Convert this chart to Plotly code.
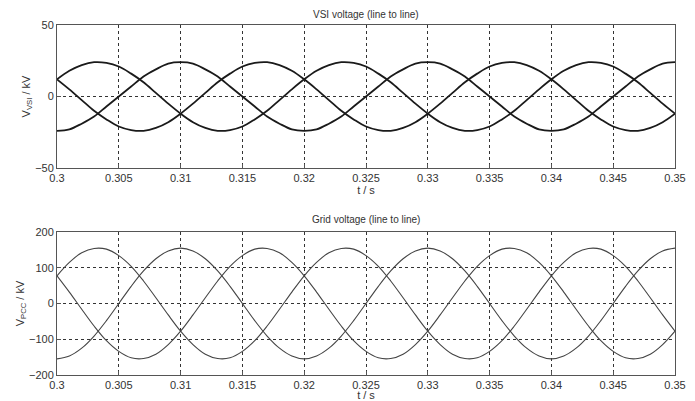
import plotly.graph_objects as go
from plotly.subplots import make_subplots

t = [0.300, 0.301, 0.302, 0.303, 0.304, 0.305, 0.306, 0.307, 0.308, 0.309,
     0.310, 0.311, 0.312, 0.313, 0.314, 0.315, 0.316, 0.317, 0.318, 0.319,
     0.320, 0.321, 0.322, 0.323, 0.324, 0.325, 0.326, 0.327, 0.328, 0.329,
     0.330, 0.331, 0.332, 0.333, 0.334, 0.335, 0.336, 0.337, 0.338, 0.339,
     0.340, 0.341, 0.342, 0.343, 0.344, 0.345, 0.346, 0.347, 0.348, 0.349,
     0.350]

# VSI line-to-line voltages (kV)
vsi_a = [-24, -23, -19, -14, -7, 0, 7, 14, 19, 23,
         24, 23, 19, 14, 7, 0, -7, -14, -19, -23,
         -24, -23, -19, -14, -7, 0, 7, 14, 19, 23,
         24, 23, 19, 14, 7, 0, -7, -14, -19, -23,
         -24, -23, -19, -14, -7, 0, 7, 14, 19, 23,
         24]
vsi_b = [12, 18, 22, 24, 23.5, 21, 16, 10, 2.5, -5,
         -12, -18, -22, -24, -23.5, -21, -16, -10, -2.5, 5,
         12, 18, 22, 24, 23.5, 21, 16, 10, 2.5, -5,
         -12, -18, -22, -24, -23.5, -21, -16, -10, -2.5, 5,
         12, 18, 22, 24, 23.5, 21, 16, 10, 2.5, -5,
         -12]
vsi_c = [12, 5, -2.5, -10, -16, -21, -23.5, -24, -22, -18,
         -12, -5, 2.5, 10, 16, 21, 23.5, 24, 22, 18,
         12, 5, -2.5, -10, -16, -21, -23.5, -24, -22, -18,
         -12, -5, 2.5, 10, 16, 21, 23.5, 24, 22, 18,
         12, 5, -2.5, -10, -16, -21, -23.5, -24, -22, -18,
         -12]

# Grid line-to-line voltages (kV)
pcc_a = [-155, -147, -125, -91, -48, 0, 48, 91, 125, 147,
         155, 147, 125, 91, 48, 0, -48, -91, -125, -147,
         -155, -147, -125, -91, -48, 0, 48, 91, 125, 147,
         155, 147, 125, 91, 48, 0, -48, -91, -125, -147,
         -155, -147, -125, -91, -48, 0, 48, 91, 125, 147,
         155]
pcc_b = [77.5, 115, 142, 154, 152, 134, 104, 63, 16, -32,
         -77.5, -115, -142, -154, -152, -134, -104, -63, -16, 32,
         77.5, 115, 142, 154, 152, 134, 104, 63, 16, -32,
         -77.5, -115, -142, -154, -152, -134, -104, -63, -16, 32,
         77.5, 115, 142, 154, 152, 134, 104, 63, 16, -32,
         -77.5]
pcc_c = [77.5, 32, -16, -63, -104, -134, -152, -154, -142, -115,
         -77.5, -32, 16, 63, 104, 134, 152, 154, 142, 115,
         77.5, 32, -16, -63, -104, -134, -152, -154, -142, -115,
         -77.5, -32, 16, 63, 104, 134, 152, 154, 142, 115,
         77.5, 32, -16, -63, -104, -134, -152, -154, -142, -115,
         -77.5]

x_ticks = [0.3, 0.305, 0.31, 0.315, 0.32, 0.325, 0.33, 0.335, 0.34, 0.345, 0.35]
x_labels = ["0.3", "0.305", "0.31", "0.315", "0.32", "0.325", "0.33", "0.335", "0.34", "0.345", "0.35"]
y1_ticks = [-50, 0, 50]
y2_ticks = [-200, -100, 0, 100, 200]

fig = make_subplots(rows=2, cols=1)

for s in (vsi_a, vsi_b, vsi_c):
    fig.add_trace(go.Scatter(x=t, y=s, mode="lines", line=dict(color="#1a1a1a", width=1.8, shape="spline"),
                             showlegend=False), row=1, col=1)
for s in (pcc_a, pcc_b, pcc_c):
    fig.add_trace(go.Scatter(x=t, y=s, mode="lines", line=dict(color="#444444", width=1.1, shape="spline"),
                             showlegend=False), row=2, col=1)

font = dict(family="Liberation Sans, Arial, sans-serif", size=11, color="#333333")
axis_common = dict(showline=True, linecolor="#555555", linewidth=1, mirror=True,
                   ticks="inside", ticklen=4, tickcolor="#555555",
                   showgrid=True, gridcolor="#333333", gridwidth=1, griddash="dot",
                   zeroline=False, automargin=False, tickfont=font)

fig.update_xaxes(range=[0.3, 0.35], tickvals=x_ticks, ticktext=x_labels, **axis_common)
fig.update_yaxes(**axis_common)
fig.update_yaxes(range=[-50, 50], tickvals=y1_ticks, row=1, col=1)
fig.update_yaxes(range=[-200, 200], tickvals=y2_ticks, row=2, col=1)

# page body has an 8px margin, so the figure is sized/positioned to compensate
fig.update_layout(
    width=687, height=393,
    margin=dict(l=49, r=20, t=17, b=26),
    plot_bgcolor="white", paper_bgcolor="white",
    font=font,
    yaxis=dict(domain=[0.5914, 1.0]),
    yaxis2=dict(domain=[0.0, 0.4086]),
    xaxis=dict(title=dict(text="t / s", font=font, standoff=2)),
    xaxis2=dict(title=dict(text="t / s", font=font, standoff=2)),
    yaxis_title=dict(text="V<sub>VSI</sub> / kV", font=font, standoff=2),
    yaxis2_title=dict(text="V<sub>PCC</sub> / kV", font=font, standoff=2),
    annotations=[
        dict(text="VSI voltage (line to line)", x=0.5, y=1.031, xref="paper", yref="paper",
             showarrow=False, yanchor="middle", font=dict(family=font["family"], size=10, color="#333333")),
        dict(text="Grid voltage (line to line)", x=0.5, y=0.443, xref="paper", yref="paper",
             showarrow=False, yanchor="middle", font=dict(family=font["family"], size=10, color="#333333")),
    ],
)

fig.write_html("out.html")
